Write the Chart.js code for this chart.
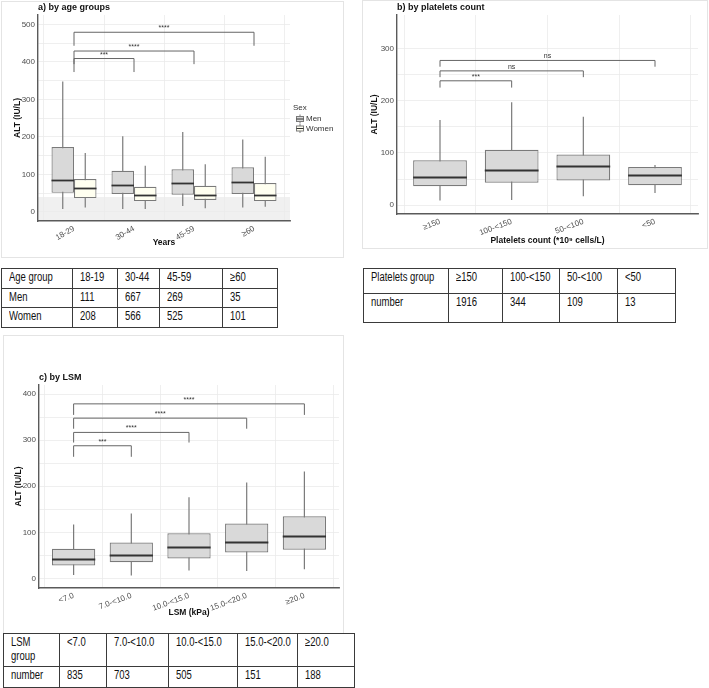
<!DOCTYPE html>
<html>
<head>
<meta charset="utf-8">
<script src="https://cdn.jsdelivr.net/npm/chart.js@4.4.0/dist/chart.umd.min.js"></script>
<style>
body { margin:0; background:#fff; width:709px; height:688px; position:relative; overflow:hidden; font-family:"Liberation Sans", Arial, sans-serif; }
.frame { position:absolute; border:1px solid #e4e4e4; box-sizing:border-box; }
canvas { position:absolute; }
table.counts { position:absolute; border-collapse:collapse; table-layout:fixed; font-family:"Liberation Sans", Arial, sans-serif; font-size:12.5px; color:#111; }
table.counts td { border:1px solid #3a3a3a; padding:1px 0 0 7px; vertical-align:top; text-align:left; line-height:1.15; overflow:hidden; white-space:pre; }
table.counts td span { display:inline-block; transform:scaleX(0.76); transform-origin:0 0; white-space:pre; }
</style>
</head>
<body>
<div class="frame" style="left:1px;top:1px;width:343px;height:257px"></div>
<div class="frame" style="left:362px;top:0px;width:346px;height:249px"></div>
<div class="frame" style="left:3px;top:335px;width:341px;height:299px"></div>
<canvas id="age" width="340" height="254" style="left:2px;top:2px"></canvas>
<canvas id="platelets" width="344" height="247" style="left:363px;top:1px"></canvas>
<canvas id="lsm" width="338" height="296" style="left:4px;top:336px"></canvas>

<table class="counts" id="tabAge" style="left:1px;top:268px;width:276px"></table>
<table class="counts" id="tabPlt" style="left:363px;top:268px;width:312px"></table>
<table class="counts" id="tabLsm" style="left:3px;top:633px;width:351px"></table>

<script>
// ---- data ----
// a) by age groups
var ageGroups = ['18-29', '30-44', '45-59', '≥60'];
var menLow = [8, 8, 16, 12];
var menQ1 = [51, 48, 46, 48];
var menMed = [86, 71, 77, 80];
var menQ3 = [173, 110, 114, 119];
var menHigh = [348, 202, 213, 193];
var womenLow = [12, 8, 10, 14];
var womenQ1 = [37, 29, 32, 29];
var womenMed = [63, 44, 46, 45];
var womenQ3 = [88, 67, 70, 77];
var womenHigh = [157, 123, 127, 147];
var ageTicks = [0, 50, 100, 150, 200, 250, 300, 350, 400, 450, 500];
var ageBrackets = [[0, 1, 409, 373, '***'], [0, 2, 429, 394, '****'], [0, 3, 479, 443, '****']];
var ageNormalMax = 40;

// b) by platelets count
var pltGroups = ['≥150', '100-<150', '50-<100', '<50'];
var pltLow = [9, 10, 17, 23];
var pltQ1 = [36, 43, 47, 38];
var pltMed = [54, 68, 75, 58];
var pltQ3 = [86, 106, 97, 73];
var pltHigh = [163, 197, 169, 77];
var pltTicks = [0, 50, 100, 150, 200, 250, 300];
var pltBrackets = [[0, 1, 238, 225, '***'], [0, 2, 257, 245, 'ns'], [0, 3, 277, 265, 'ns']];

// c) by LSM
var lsmGroups = ['<7.0', '7.0-<10.0', '10.0-<15.0', '15.0-<20.0', '≥20.0'];
var lsmLow = [7, 6, 17, 16, 20];
var lsmQ1 = [28, 35, 43, 56, 62];
var lsmMed = [42, 50, 67, 80, 93];
var lsmQ3 = [64, 78, 98, 119, 135];
var lsmHigh = [117, 141, 176, 208, 232];
var lsmTicks = [0, 50, 100, 150, 200, 250, 300, 350, 400];
var lsmBrackets = [[0, 1, 288, 264, '***'], [0, 2, 317, 295, '****'], [0, 3, 348, 325, '****'], [0, 4, 379, 355, '****']];

// tables
var ageTable = [['Age group', '18-19', '30-44', '45-59', '≥60'], ['Men', '111', '667', '269', '35'], ['Women', '208', '566', '525', '101']];
var pltTable = [['Platelets group', '≥150', '100-<150', '50-<100', '<50'], ['number', '1916', '344', '109', '13']];
var lsmTable = [['LSM\ngroup', '<7.0', '7.0-<10.0', '10.0-<15.0', '15.0-<20.0', '≥20.0'], ['number', '835', '703', '505', '151', '188']];

Chart.defaults.font.family = '"Liberation Sans", Arial, sans-serif';
Chart.defaults.color = '#4d4d4d';

var GRID = '#ebebeb';
var AXIS = '#5a5a5a';
var EDGE = '#7a7a7a';

// medians, significance brackets, shading, panel title, legend
var boxExtras = {
    id: 'boxExtras',
    beforeDraw: function (chart, args, opts) {
        if (opts.shadeTo == null) return;
        var a = chart.chartArea, y = chart.scales.y, ctx = chart.ctx;
        var top = y.getPixelForValue(opts.shadeTo);
        ctx.save();
        ctx.fillStyle = '#f0f0f0';
        ctx.fillRect(a.left, top, a.right - a.left, a.bottom - top);
        ctx.restore();
    },
    afterDatasetsDraw: function (chart, args, opts) {
        var ctx = chart.ctx, x = chart.scales.x, y = chart.scales.y;
        ctx.save();
        // median lines
        chart.data.datasets.forEach(function (ds, i) {
            if (!ds.medians) return;
            chart.getDatasetMeta(i).data.forEach(function (bar, j) {
                var p = bar.getProps(['x', 'width'], true);
                var py = Math.round(y.getPixelForValue(ds.medians[j])) + 0.5;
                ctx.strokeStyle = '#333';
                ctx.lineWidth = 1.8;
                ctx.beginPath();
                ctx.moveTo(p.x - p.width / 2, py);
                ctx.lineTo(p.x + p.width / 2, py);
                ctx.stroke();
            });
        });
        // brackets
        (opts.brackets || []).forEach(function (b) {
            var xa = x.getPixelForValue(b[0] + 1), xb = x.getPixelForValue(b[1] + 1);
            var yt = y.getPixelForValue(b[2]), yl = y.getPixelForValue(b[3]);
            ctx.strokeStyle = '#666';
            ctx.lineWidth = 1;
            ctx.beginPath();
            ctx.moveTo(xa, yl);
            ctx.lineTo(xa, yt);
            ctx.lineTo(xb, yt);
            ctx.lineTo(xb, yl);
            ctx.stroke();
            ctx.fillStyle = '#333';
            ctx.font = '7px "Liberation Sans", Arial, sans-serif';
            ctx.textAlign = 'center';
            ctx.textBaseline = 'alphabetic';
            ctx.fillText(b[4], (xa + xb) / 2, yt - 2);
        });
        ctx.restore();
    },
    afterDraw: function (chart, args, opts) {
        var ctx = chart.ctx, a = chart.chartArea;
        ctx.save();
        if (opts.title) {
            ctx.fillStyle = '#111';
            ctx.font = 'bold 9px "Liberation Sans", Arial, sans-serif';
            ctx.textAlign = 'left';
            ctx.textBaseline = 'middle';
            ctx.fillText(opts.title, a.left, a.top - 7);
        }
        if (opts.legend) {
            var L = opts.legend;
            ctx.font = '8px "Liberation Sans", Arial, sans-serif';
            ctx.fillStyle = '#333';
            ctx.textAlign = 'left';
            ctx.textBaseline = 'middle';
            ctx.fillText(L.title, L.x, L.y);
            var row = 0;
            chart.data.datasets.forEach(function (ds) {
                if (!ds.medians) return;
                var cy = L.y + 11 + row * 9.5, cx = L.x + 7;
                ctx.strokeStyle = EDGE;
                ctx.lineWidth = 1;
                ctx.beginPath();
                ctx.moveTo(cx, cy - 4.5); ctx.lineTo(cx, cy + 4.5);
                ctx.stroke();
                ctx.fillStyle = ds.backgroundColor;
                ctx.fillRect(cx - 3.5, cy - 2.5, 7, 5);
                ctx.strokeRect(cx - 3.5, cy - 2.5, 7, 5);
                ctx.beginPath();
                ctx.moveTo(cx - 3.5, cy); ctx.lineTo(cx + 3.5, cy);
                ctx.strokeStyle = '#333';
                ctx.stroke();
                ctx.fillStyle = '#333';
                ctx.fillText(ds.label, cx + 6, cy);
                row++;
            });
        }
        ctx.restore();
    }
};

function boxSeries(label, stack, fill, low, q1, med, q3, high) {
    var boxes = q1.map(function (v, i) { return { x: i + 1, y: [v, q3[i]] }; });
    var whiskers = low.map(function (v, i) { return { x: i + 1, y: [v, high[i]] }; });
    return [
        { label: label, stack: stack, order: 0, data: boxes, medians: med, backgroundColor: fill,
          borderColor: EDGE, borderWidth: 1.2, borderSkipped: false, inflateAmount: 0 },
        { label: label + ' whisker', stack: stack, order: 1, data: whiskers, backgroundColor: EDGE,
          borderWidth: 0, maxBarThickness: 1.2, inflateAmount: 0 }
    ];
}

function boxChart(id, p) {
    var ctx = document.getElementById(id).getContext('2d');
    return new Chart(ctx, {
        type: 'bar',
        data: { datasets: p.datasets },
        plugins: [boxExtras],
        options: {
            responsive: false,
            animation: false,
            devicePixelRatio: 1,
            categoryPercentage: 0.75,
            barPercentage: 1,
            layout: { padding: { left: 0, right: p.padRight, top: p.padTop, bottom: 0 } },
            scales: {
                x: {
                    type: 'linear', stacked: true, offset: false,
                    min: 0.4, max: p.groups.length + 0.6,
                    afterBuildTicks: function (s) { s.ticks = p.groups.map(function (g, i) { return { value: i + 1 }; }); },
                    afterFit: function (s) { s.height = p.xHeight; s.paddingLeft = 0; s.paddingRight = 0; },
                    grid: { color: GRID, lineWidth: 0.8, drawTicks: false },
                    border: { display: true, color: AXIS, width: 1.4 },
                    ticks: {
                        callback: function (v) { return p.groups[v - 1]; },
                        minRotation: p.rotation, maxRotation: p.rotation, autoSkip: false,
                        padding: 3, font: { size: 8 }, color: '#4d4d4d'
                    },
                    title: { display: true, text: p.xTitle, color: '#111', font: { size: 8.5, weight: 'bold' },
                             padding: { top: 0, bottom: p.xTitlePad } }
                },
                y: {
                    stacked: false,
                    min: p.yMin, max: p.yMax,
                    afterBuildTicks: function (s) { s.ticks = p.yTicks.map(function (v) { return { value: v }; }); },
                    afterFit: function (s) { s.width = p.yWidth; s.paddingTop = 0; s.paddingBottom = 0; },
                    grid: { color: GRID, lineWidth: 0.8, drawTicks: false },
                    border: { display: true, color: AXIS, width: 1.4 },
                    ticks: {
                        callback: function (v) { return v % 100 === 0 ? v : ''; },
                        autoSkip: false, padding: 3, font: { size: 8 }, color: '#4d4d4d'
                    },
                    title: { display: true, text: 'ALT (IU/L)', color: '#111', font: { size: 8.5, weight: 'bold' },
                             padding: { top: p.yTitlePad, bottom: 0 } }
                }
            },
            plugins: {
                legend: { display: false },
                tooltip: { enabled: false },
                boxExtras: { title: p.title, brackets: p.brackets, shadeTo: p.shadeTo, legend: p.legend }
            }
        }
    });
}

boxChart('age', {
    groups: ageGroups,
    datasets: boxSeries('Men', 'men', '#d9d9d9', menLow, menQ1, menMed, menQ3, menHigh)
        .concat(boxSeries('Women', 'women', '#fffff0', womenLow, womenQ1, womenMed, womenQ3, womenHigh)),
    yMin: -24, yMax: 525, yTicks: ageTicks, rotation: 30,
    xTitle: 'Years', title: 'a) by age groups',
    padRight: 52, padTop: 13, xHeight: 35, yWidth: 36, xTitlePad: 8, yTitlePad: 11,
    brackets: ageBrackets, shadeTo: ageNormalMax,
    legend: { title: 'Sex', x: 291, y: 106 }
});

boxChart('platelets', {
    groups: pltGroups,
    datasets: boxSeries('ALT', 'all', '#d9d9d9', pltLow, pltQ1, pltMed, pltQ3, pltHigh),
    yMin: -17, yMax: 364, yTicks: pltTicks, rotation: 20,
    xTitle: 'Platelets count (*10⁹ cells/L)', title: 'b) by platelets count',
    padRight: 9, padTop: 14, xHeight: 34, yWidth: 34, xTitlePad: 2, yTitlePad: 7,
    brackets: pltBrackets
});

boxChart('lsm', {
    groups: lsmGroups,
    datasets: boxSeries('ALT', 'all', '#d9d9d9', lsmLow, lsmQ1, lsmMed, lsmQ3, lsmHigh),
    yMin: -21, yMax: 420, yTicks: lsmTicks, rotation: 20,
    xTitle: 'LSM (kPa)', title: 'c) by LSM',
    padRight: 3, padTop: 49, xHeight: 44, yWidth: 35, xTitlePad: 14, yTitlePad: 10,
    brackets: lsmBrackets
});

// count tables
function fillTable(id, rows, widths, heights) {
    var t = document.getElementById(id);
    var cg = document.createElement('colgroup');
    widths.forEach(function (w) { var c = document.createElement('col'); c.style.width = w + 'px'; cg.appendChild(c); });
    t.appendChild(cg);
    rows.forEach(function (r, i) {
        var tr = document.createElement('tr');
        tr.style.height = heights[i] + 'px';
        r.forEach(function (txt) {
            var td = document.createElement('td');
            var sp = document.createElement('span');
            sp.textContent = txt;
            td.appendChild(sp);
            tr.appendChild(td);
        });
        t.appendChild(tr);
    });
}
fillTable('tabAge', ageTable, [71, 45, 42, 63, 55], [20, 19, 20]);
fillTable('tabPlt', pltTable, [85, 54, 57, 58, 58], [25, 29]);
fillTable('tabLsm', lsmTable, [56, 47, 62, 69, 60, 57], [33, 21]);
</script>
</body>
</html>
